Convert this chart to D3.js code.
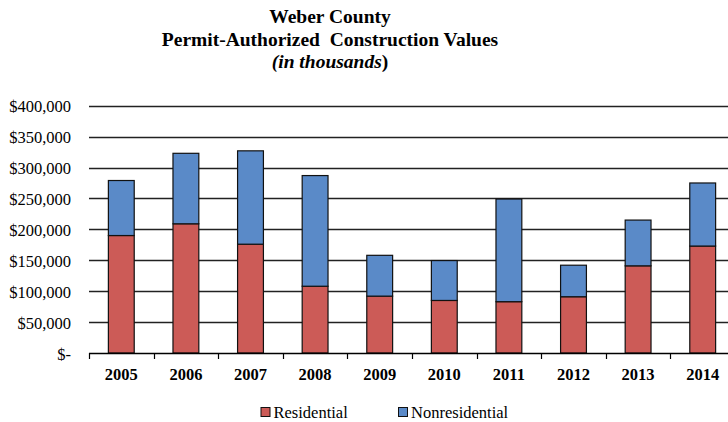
<!DOCTYPE html>
<html><head><meta charset="utf-8">
<script src="https://cdn.jsdelivr.net/npm/d3@7"></script>
<style>body{margin:0;background:#fff}svg{display:block}text{font-family:"Liberation Serif","Times New Roman",serif}</style>
</head><body>
<svg id="c" width="728" height="422"></svg>
<script>
const years = ["2005","2006","2007","2008","2009","2010","2011","2012","2013","2014"];
const residential = [190, 209, 176, 108, 92, 85, 83, 91, 141, 173];
const nonresidential = [89, 114, 151, 179, 66, 64.5, 166, 51, 74, 102];
const yTicks = [0, 50000, 100000, 150000, 200000, 250000, 300000, 350000, 400000];
const seriesNames = ["Residential", "Nonresidential"];
const colors = ["#CC5B57", "#5A8AC8"];

const svg = d3.select("#c");
const x0 = 89, x1 = 735, yTop = 105.7, yBot = 353;
const x = d3.scaleBand().domain(years).range([x0, x1]).paddingInner(0.6).paddingOuter(0.3);
const xb = d3.scaleBand().domain(years).range([x0, x1]);
const y = d3.scaleLinear().domain([0, 400000]).range([yBot, yTop]);

// title
const t = svg.append("text").attr("text-anchor","middle")
  .attr("font-weight","bold").attr("font-size",19.5).attr("fill","#000");
t.append("tspan").attr("x",330).attr("y",22.5).text("Weber County");
t.append("tspan").attr("x",330).attr("y",45.5).text("Permit-Authorized  Construction Values").attr("style","white-space:pre");
const t3 = t.append("tspan").attr("x",330).attr("y",68);
t3.append("tspan").attr("font-style","italic").text("(in thousands");
t3.append("tspan").text(")");

// gridlines
svg.append("g").selectAll("line").data(yTicks.filter(d=>d>0)).join("line")
  .attr("x1", x0).attr("x2", 728).attr("y1", d=>Math.round(y(d))+0.5).attr("y2", d=>Math.round(y(d))+0.5)
  .attr("stroke","#222").attr("stroke-width",1.3);

// y labels
const fmt = d => d === 0 ? "$-" : "$" + d3.format(",")(d);
svg.append("g").selectAll("text").data(yTicks).join("text")
  .attr("x", 71).attr("y", d=>y(d)+6.5).attr("text-anchor","end")
  .attr("font-size",16.5).attr("fill","#000")
  .text(fmt);

// stacked bars
const data = years.map((yr,i)=>({year:yr, Residential:residential[i]*1000, Nonresidential:nonresidential[i]*1000}));
const stack = d3.stack().keys(seriesNames)(data);
svg.append("g").selectAll("g").data(stack).join("g")
  .attr("fill",(d,i)=>colors[i])
  .selectAll("rect").data(d=>d).join("rect")
  .attr("x", d=>x(d.data.year)).attr("width", x.bandwidth())
  .attr("y", d=>y(d[1])).attr("height", d=>y(d[0])-y(d[1]))
  .attr("stroke","#111").attr("stroke-width",1.2);

// x axis
const xa = svg.append("g");
xa.append("line").attr("x1",x0).attr("x2",728).attr("y1",yBot+0.5).attr("y2",yBot+0.5).attr("stroke","#000").attr("stroke-width",1.3);
xa.selectAll("line.tk").data(years.concat(["end"])).join("line").attr("class","tk")
  .attr("x1",(d,i)=>Math.round(x0 + i*xb.bandwidth())+0.5).attr("x2",(d,i)=>Math.round(x0 + i*xb.bandwidth())+0.5)
  .attr("y1",yBot).attr("y2",yBot+6).attr("stroke","#000").attr("stroke-width",1.2);
xa.selectAll("text").data(years).join("text")
  .attr("x", d=>xb(d)+xb.bandwidth()/2).attr("y", 380).attr("text-anchor","middle")
  .attr("font-weight","bold").attr("font-size",16.5)
  .text(d=>d);

// legend
const lg = svg.append("g");
const lx = [261, 398.5];
seriesNames.forEach((s,i)=>{
  lg.append("rect").attr("x",lx[i]).attr("y",407.5).attr("width",9).attr("height",9)
    .attr("fill",colors[i]).attr("stroke","#111").attr("stroke-width",1);
  lg.append("text").attr("x",lx[i]+12.5).attr("y",417.5)
    .attr("font-size",16.5).text(s);
});
</script>
</body></html>
